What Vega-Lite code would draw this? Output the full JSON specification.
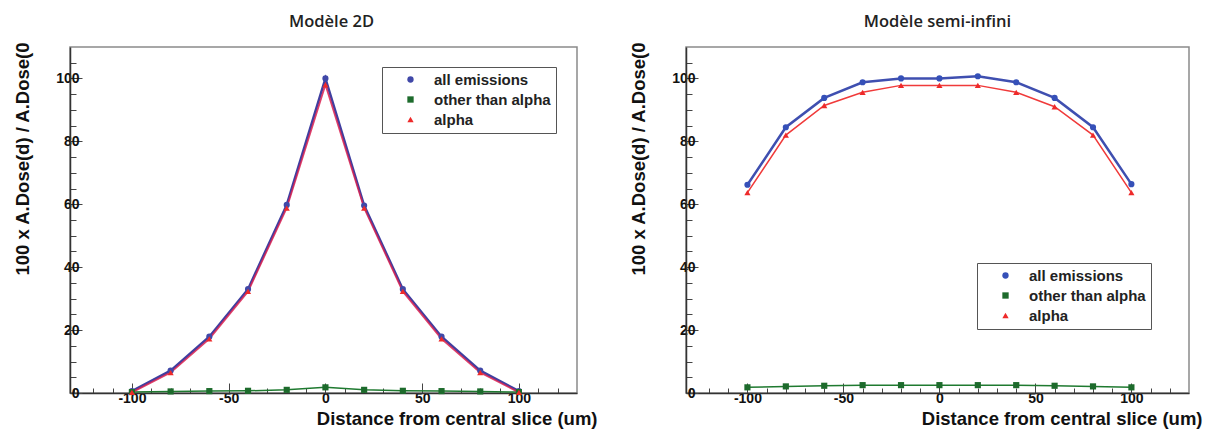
{
  "$schema": "https://vega.github.io/schema/vega-lite/v6.json",
  "background": "white",
  "padding": {"left": 12, "top": 12, "right": 0, "bottom": 0},
  "bounds": "flush",
  "spacing": 109,
  "config": {
    "view": {"stroke": "#8a8a8a", "strokeWidth": 1.5},
    "axis": {
      "labelFont": "Liberation Sans", "labelFontWeight": "bold", "labelFontSize": 14, "labelColor": "#111",
      "titleFont": "Liberation Sans", "titleFontWeight": "bold", "titleFontSize": 18.5, "titleColor": "#111",
      "domainColor": "#333", "domainWidth": 1.5, "tickColor": "#444", "tickWidth": 1, "grid": false
    },
    "title": {"font": "Open Sans", "fontWeight": 600, "fontSize": 16.5, "color": "#222", "offset": 12},
    "legend": {
      "orient": "none", "strokeColor": "#555", "fillColor": "white", "padding": 5,
      "labelFont": "Liberation Sans", "labelFontWeight": "bold", "labelFontSize": 15, "labelColor": "#222",
      "symbolSize": 40, "symbolStrokeWidth": 0, "symbolOffset": 16, "labelOffset": 16, "rowPadding": 4
    }
  },
  "datasets": {
    "d": [
      {"panel": "2D", "series": "all emissions", "x": -100, "y": 0.6},
      {"panel": "2D", "series": "all emissions", "x": -80, "y": 7.1},
      {"panel": "2D", "series": "all emissions", "x": -60, "y": 17.9},
      {"panel": "2D", "series": "all emissions", "x": -40, "y": 33.0},
      {"panel": "2D", "series": "all emissions", "x": -20, "y": 59.8},
      {"panel": "2D", "series": "all emissions", "x": 0, "y": 100},
      {"panel": "2D", "series": "all emissions", "x": 20, "y": 59.6},
      {"panel": "2D", "series": "all emissions", "x": 40, "y": 33.0},
      {"panel": "2D", "series": "all emissions", "x": 60, "y": 17.9},
      {"panel": "2D", "series": "all emissions", "x": 80, "y": 7.1},
      {"panel": "2D", "series": "all emissions", "x": 100, "y": 0.6},
      {"panel": "2D", "series": "other than alpha", "x": -100, "y": 0.3},
      {"panel": "2D", "series": "other than alpha", "x": -80, "y": 0.5},
      {"panel": "2D", "series": "other than alpha", "x": -60, "y": 0.6},
      {"panel": "2D", "series": "other than alpha", "x": -40, "y": 0.7},
      {"panel": "2D", "series": "other than alpha", "x": -20, "y": 1.0},
      {"panel": "2D", "series": "other than alpha", "x": 0, "y": 1.8},
      {"panel": "2D", "series": "other than alpha", "x": 20, "y": 1.0},
      {"panel": "2D", "series": "other than alpha", "x": 40, "y": 0.7},
      {"panel": "2D", "series": "other than alpha", "x": 60, "y": 0.6},
      {"panel": "2D", "series": "other than alpha", "x": 80, "y": 0.5},
      {"panel": "2D", "series": "other than alpha", "x": 100, "y": 0.3},
      {"panel": "2D", "series": "alpha", "x": -100, "y": 0.2},
      {"panel": "2D", "series": "alpha", "x": -80, "y": 6.5},
      {"panel": "2D", "series": "alpha", "x": -60, "y": 17.2},
      {"panel": "2D", "series": "alpha", "x": -40, "y": 32.3},
      {"panel": "2D", "series": "alpha", "x": -20, "y": 58.8},
      {"panel": "2D", "series": "alpha", "x": 0, "y": 98.0},
      {"panel": "2D", "series": "alpha", "x": 20, "y": 58.8},
      {"panel": "2D", "series": "alpha", "x": 40, "y": 32.3},
      {"panel": "2D", "series": "alpha", "x": 60, "y": 17.2},
      {"panel": "2D", "series": "alpha", "x": 80, "y": 6.5},
      {"panel": "2D", "series": "alpha", "x": 100, "y": 0.2},
      {"panel": "semi", "series": "all emissions", "x": -100, "y": 66.2},
      {"panel": "semi", "series": "all emissions", "x": -80, "y": 84.5},
      {"panel": "semi", "series": "all emissions", "x": -60, "y": 93.8},
      {"panel": "semi", "series": "all emissions", "x": -40, "y": 98.8},
      {"panel": "semi", "series": "all emissions", "x": -20, "y": 100.0},
      {"panel": "semi", "series": "all emissions", "x": 0, "y": 100.0},
      {"panel": "semi", "series": "all emissions", "x": 20, "y": 100.7},
      {"panel": "semi", "series": "all emissions", "x": 40, "y": 98.8},
      {"panel": "semi", "series": "all emissions", "x": 60, "y": 93.8},
      {"panel": "semi", "series": "all emissions", "x": 80, "y": 84.5},
      {"panel": "semi", "series": "all emissions", "x": 100, "y": 66.4},
      {"panel": "semi", "series": "other than alpha", "x": -100, "y": 1.8},
      {"panel": "semi", "series": "other than alpha", "x": -80, "y": 2.1},
      {"panel": "semi", "series": "other than alpha", "x": -60, "y": 2.3},
      {"panel": "semi", "series": "other than alpha", "x": -40, "y": 2.5},
      {"panel": "semi", "series": "other than alpha", "x": -20, "y": 2.5},
      {"panel": "semi", "series": "other than alpha", "x": 0, "y": 2.5},
      {"panel": "semi", "series": "other than alpha", "x": 20, "y": 2.5},
      {"panel": "semi", "series": "other than alpha", "x": 40, "y": 2.5},
      {"panel": "semi", "series": "other than alpha", "x": 60, "y": 2.3},
      {"panel": "semi", "series": "other than alpha", "x": 80, "y": 2.1},
      {"panel": "semi", "series": "other than alpha", "x": 100, "y": 1.8},
      {"panel": "semi", "series": "alpha", "x": -100, "y": 63.7},
      {"panel": "semi", "series": "alpha", "x": -80, "y": 82.0},
      {"panel": "semi", "series": "alpha", "x": -60, "y": 91.4},
      {"panel": "semi", "series": "alpha", "x": -40, "y": 95.6},
      {"panel": "semi", "series": "alpha", "x": -20, "y": 97.8},
      {"panel": "semi", "series": "alpha", "x": 0, "y": 97.8},
      {"panel": "semi", "series": "alpha", "x": 20, "y": 97.8},
      {"panel": "semi", "series": "alpha", "x": 40, "y": 95.6},
      {"panel": "semi", "series": "alpha", "x": 60, "y": 91.0},
      {"panel": "semi", "series": "alpha", "x": 80, "y": 82.0},
      {"panel": "semi", "series": "alpha", "x": 100, "y": 63.7}
    ]
  },
  "data": {"name": "d"},
  "resolve": {"scale": {"fill": "independent", "shape": "independent"}, "legend": {"fill": "independent", "shape": "independent"}},
  "hconcat": [
    {
      "width": 507, "height": 346,
      "title": {"text": "Modèle 2D", "dx": 8},
      "transform": [{"filter": "datum.panel === '2D'"}],
      "encoding": {
        "x": {"field": "x", "type": "quantitative", "scale": {"domain": [-132, 130], "nice": false, "zero": false},
          "axis": {"title": "Distance from central slice (um)", "values": [-130,-120,-110,-100,-90,-80,-70,-60,-50,-40,-30,-20,-10,0,10,20,30,40,50,60,70,80,90,100,110,120],
            "labelExpr": "datum.value % 50 === 0 ? '' + datum.value : ''",
            "tickSize": {"condition": {"test": "datum.value % 50 === 0", "value": -10}, "value": -5},
            "labelPadding": 8, "titleAnchor": "end", "titleAlign": "right", "titleX": 527, "titleY": 25, "titleBaseline": "middle"}},
        "y": {"field": "y", "type": "quantitative", "scale": {"domain": [0, 110], "nice": false},
          "axis": {"title": "100 x A.Dose(d) / A.Dose(0", "values": [0,5,10,15,20,25,30,35,40,45,50,55,60,65,70,75,80,85,90,95,100,105],
            "labelExpr": "datum.value % 20 === 0 ? '' + datum.value : ''",
            "tickSize": {"condition": {"test": "datum.value % 20 === 0", "value": -12}, "value": -6},
            "labelPadding": 3, "titleAnchor": "end", "titleX": -38, "titleY": -5, "titleAngle": -90, "titleAlign": "right", "titleBaseline": "bottom"}}
      },
      "layer": [
        {"transform": [{"filter": "datum.series === 'all emissions'"}], "mark": {"type": "line", "color": "#3f3fa0", "strokeWidth": 2.5}},
        {"transform": [{"filter": "datum.series === 'other than alpha'"}], "mark": {"type": "line", "color": "#1f7a30", "strokeWidth": 1.5}},
        {"transform": [{"filter": "datum.series === 'alpha'"}], "mark": {"type": "line", "color": "#d82050", "strokeWidth": 1.8, "opacity": 0.85}},
        {"mark": {"type": "point", "filled": true, "size": 38, "opacity": 1},
          "encoding": {
            "fill": {"field": "series", "type": "nominal", "scale": {"domain": ["all emissions", "other than alpha", "alpha"], "range": ["#4048a8", "#1d6b2c", "#ee2a2a"]}, "legend": {"title": null, "legendX": 312, "legendY": 20}},
            "shape": {"field": "series", "type": "nominal", "scale": {"domain": ["all emissions", "other than alpha", "alpha"], "range": ["circle", "square", "triangle-up"]}, "legend": {"title": null, "legendX": 312, "legendY": 20}}
          }}
      ]
    },
    {
      "width": 503, "height": 346,
      "title": {"text": "Modèle semi-infini", "dx": 0},
      "transform": [{"filter": "datum.panel === 'semi'"}],
      "encoding": {
        "x": {"field": "x", "type": "quantitative", "scale": {"domain": [-132, 130], "nice": false, "zero": false},
          "axis": {"title": "Distance from central slice (um)", "values": [-130,-120,-110,-100,-90,-80,-70,-60,-50,-40,-30,-20,-10,0,10,20,30,40,50,60,70,80,90,100,110,120],
            "labelExpr": "datum.value % 50 === 0 ? '' + datum.value : ''",
            "tickSize": {"condition": {"test": "datum.value % 50 === 0", "value": -10}, "value": -5},
            "labelPadding": 8, "titleAnchor": "end", "titleAlign": "right", "titleX": 516, "titleY": 25, "titleBaseline": "middle"}},
        "y": {"field": "y", "type": "quantitative", "scale": {"domain": [0, 110], "nice": false},
          "axis": {"title": "100 x A.Dose(d) / A.Dose(0", "values": [0,5,10,15,20,25,30,35,40,45,50,55,60,65,70,75,80,85,90,95,100,105],
            "labelExpr": "datum.value % 20 === 0 ? '' + datum.value : ''",
            "tickSize": {"condition": {"test": "datum.value % 20 === 0", "value": -12}, "value": -6},
            "labelPadding": 3, "titleAnchor": "end", "titleX": -38, "titleY": -5, "titleAngle": -90, "titleAlign": "right", "titleBaseline": "bottom"}}
      },
      "layer": [
        {"transform": [{"filter": "datum.series === 'all emissions'"}], "mark": {"type": "line", "color": "#3f4fb0", "strokeWidth": 2.5}},
        {"transform": [{"filter": "datum.series === 'other than alpha'"}], "mark": {"type": "line", "color": "#1f7a30", "strokeWidth": 1.5}},
        {"transform": [{"filter": "datum.series === 'alpha'"}], "mark": {"type": "line", "color": "#f03a3a", "strokeWidth": 1.5}},
        {"mark": {"type": "point", "filled": true, "size": 38, "opacity": 1},
          "encoding": {
            "fill": {"field": "series", "type": "nominal", "scale": {"domain": ["all emissions", "other than alpha", "alpha"], "range": ["#3550b8", "#1d6b2c", "#ee2a2a"]}, "legend": {"title": null, "legendX": 291, "legendY": 216}},
            "shape": {"field": "series", "type": "nominal", "scale": {"domain": ["all emissions", "other than alpha", "alpha"], "range": ["circle", "square", "triangle-up"]}, "legend": {"title": null, "legendX": 291, "legendY": 216}}
          }}
      ]
    }
  ]
}
